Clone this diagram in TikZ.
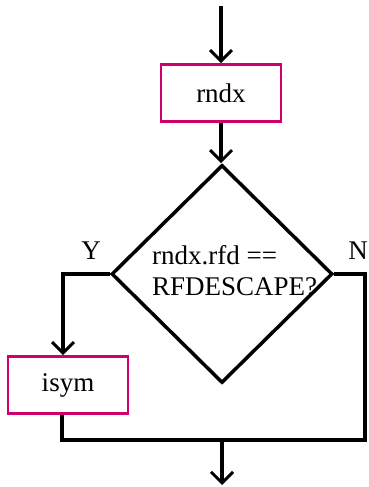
\documentclass[tikz,border=0pt]{standalone}
\usepackage{fontspec}
\setmainfont{Liberation Serif}
\usetikzlibrary{shapes.geometric,arrows.meta,calc}
\definecolor{boxpink}{RGB}{206,0,110}
\begin{document}
\begin{tikzpicture}[x=1pt,y=1pt,
  font=\fontsize{27}{31}\selectfont,
  procbox/.style={draw=boxpink,line width=2.6pt,minimum width=120pt,minimum height=57pt,inner sep=0pt},
  decbox/.style={draw,line width=3.5pt,shape=diamond,minimum width=221pt,minimum height=218pt,inner sep=0pt},
  flow/.style={line width=3.5pt},
  arr/.style={flow,-{Straight Barb[length=11pt,width=22pt,line width=3pt]}},
  lbl/.style={inner sep=0pt}]
\useasboundingbox (0,0) rectangle (368,487);
\node[procbox] (rndx) at (221,394) {rndx};
\node[decbox] (dec) at (222,213) {};
\node[lbl,align=left,anchor=west] (dectext) at (152,216) {rndx.rfd ==\\RFDESCAPE?};
\node[procbox] (isym) at (68,102) {isym};
\node[lbl] (ylab) at (91,236) {Y};
\node[lbl] (nlab) at (358,236) {N};
\coordinate (start) at (221,481);
\coordinate (isymin) at ($(isym.north)+(-5,0)$);
\coordinate (isymout) at ($(isym.south)+(-6,0)$);
\coordinate (merge) at (222,47);
\coordinate (end) at (222,2);
\coordinate (rcorner) at (365,47);
\draw[arr] (start) -- (rndx.north);
\draw[arr] (rndx.south) -- (rndx.south |- dec.north);
\draw[arr] (dec.west) -| (isymin);
\draw[flow] (isymout) |- (rcorner) |- (dec.east);
\draw[arr] (merge) -- (end);
\end{tikzpicture}
\end{document}
